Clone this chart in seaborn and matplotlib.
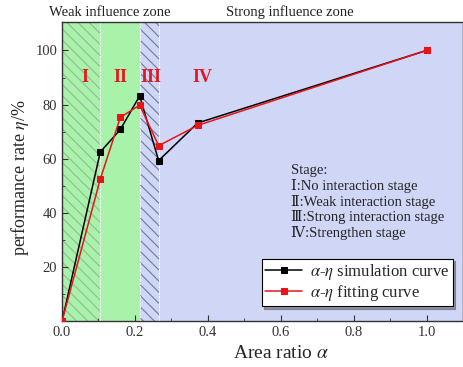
import matplotlib
matplotlib.use("Agg")
import matplotlib.pyplot as plt
import seaborn as sns
import pandas as pd

# Area ratio vs. performance rate
alpha_sim = [0.0, 0.105, 0.16, 0.213, 0.265, 0.372, 1.0]
eta_sim = [0.0, 62.5, 70.8, 83.2, 59.3, 73.2, 100.0]
alpha_fit = [0.0, 0.105, 0.16, 0.213, 0.265, 0.372, 1.0]
eta_fit = [0.0, 52.5, 75.3, 79.8, 64.8, 72.3, 100.0]

# Stage boundaries along the area ratio axis
stage_edges = [0.0, 0.105, 0.213, 0.265, 1.1]
stage_names = ["I", "II", "III", "IV"]
stage_label_x = [0.063, 0.16, 0.245, 0.385]
stage_notes = ["Stage:", "Ⅰ:No interaction stage", "Ⅱ:Weak interaction stage",
               "Ⅲ:Strong interaction stage", "Ⅳ:Strengthen stage"]

sns.set_style("ticks")
plt.rcParams["font.family"] = ["Liberation Serif", "DejaVu Serif"]
plt.rcParams["mathtext.fontset"] = "stix"
plt.rcParams["hatch.linewidth"] = 0.8

fig = plt.figure(figsize=(4.63, 3.67), dpi=100)
ax = fig.add_axes([0.134, 0.125, 0.866, 0.815])

green = "#a9f2a9"
lavender = "#cfd6f6"
ax.axvspan(stage_edges[0], stage_edges[1], facecolor=green, edgecolor="#93b89a",
           hatch="\\\\\\", lw=0, zorder=0)
ax.axvspan(stage_edges[1], stage_edges[2], facecolor=green, lw=0, zorder=0)
ax.axvspan(stage_edges[2], stage_edges[3], facecolor=lavender, edgecolor="#6d7c96",
           hatch="\\\\\\", lw=0, zorder=0)
ax.axvspan(stage_edges[3], stage_edges[4], facecolor=lavender, lw=0, zorder=0)
for xb in stage_edges[1:4]:
    ax.axvline(xb, color="white", lw=0.8, ls=(0, (2, 1)), zorder=0.5)

df_sim = pd.DataFrame({"alpha": alpha_sim, "eta": eta_sim})
df_fit = pd.DataFrame({"alpha": alpha_fit, "eta": eta_fit})

sns.lineplot(data=df_sim, x="alpha", y="eta", ax=ax, color="black", lw=1.1,
             marker="s", markersize=5, markeredgecolor="black", sort=False,
             label=r"$\alpha$-$\eta$ simulation curve", zorder=3)
sns.lineplot(data=df_fit, x="alpha", y="eta", ax=ax, color="#e8141c", lw=1.1,
             marker="s", markersize=5, markeredgecolor="#e8141c", sort=False,
             label=r"$\alpha$-$\eta$ fitting curve", zorder=4)

for name, xs in zip(stage_names, stage_label_x):
    ax.text(xs, 90, name, color="#e8141c", fontsize=13, fontweight="bold",
            ha="center", va="center", zorder=5)

ax.text(0.627, 58, "\n".join(stage_notes), fontsize=10.5, va="top", ha="left",
        linespacing=1.16, zorder=5)

fig.text(110 / 463, 1 - 12 / 367, "Weak influence zone", ha="center", va="center",
         fontsize=10.5, color="#222222")
fig.text(290 / 463, 1 - 12 / 367, "Strong influence zone", ha="center", va="center",
         fontsize=10.5, color="#222222")

ax.set_xlim(0, 1.1)
ax.set_ylim(0, 110.5)
ax.set_xticks([0.0, 0.2, 0.4, 0.6, 0.8, 1.0])
ax.set_xticks([0.1, 0.3, 0.5, 0.7, 0.9], minor=True)
ax.set_yticks([20, 40, 60, 80, 100])
ax.set_yticks([10, 30, 50, 70, 90], minor=True)
ax.tick_params(direction="in", which="both", labelsize=10.5, colors="#333333")
ax.tick_params(which="major", length=4)
ax.tick_params(which="minor", length=2)
for s in ax.spines.values():
    s.set_color("#333333")
    s.set_linewidth(1.0)

ax.set_xlabel(r"Area ratio $\alpha$", fontsize=14, labelpad=4)
ax.xaxis.label.set_x(0.546)
ax.set_ylabel(r"performance rate $\eta$/%", fontsize=13, labelpad=3)
ax.yaxis.label.set_y(0.48)

leg = ax.legend(loc="lower right", bbox_to_anchor=(0.995, 0.022), fontsize=12,
                frameon=True, fancybox=False, shadow=True, handlelength=2.2,
                borderpad=0.22, labelspacing=0.02, handletextpad=0.45)
leg.get_frame().set_edgecolor("black")
leg.get_frame().set_linewidth(0.8)

fig.savefig("out.png", dpi=100)
